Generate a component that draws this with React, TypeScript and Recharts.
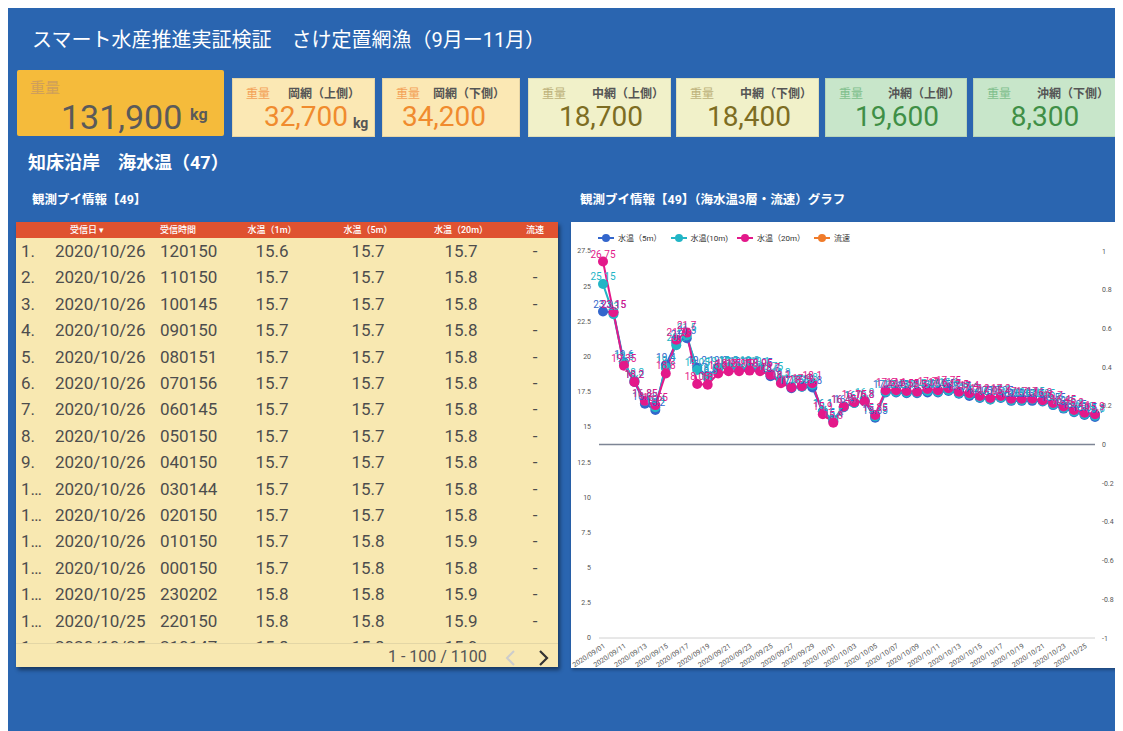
import React from "react";
import {
  LineChart,
  Line,
  XAxis,
  YAxis,
  Legend,
  LabelList,
  ReferenceLine,
} from "recharts";

// daily buoy readings, 2020/09/01 then 09/10 .. 10/26
const DATES = [
  "2020/09/01", "2020/09/10", "2020/09/11", "2020/09/12", "2020/09/13", "2020/09/14",
  "2020/09/15", "2020/09/16", "2020/09/17", "2020/09/18", "2020/09/19", "2020/09/20",
  "2020/09/21", "2020/09/22", "2020/09/23", "2020/09/24", "2020/09/25", "2020/09/26",
  "2020/09/27", "2020/09/28", "2020/09/29", "2020/09/30", "2020/10/01", "2020/10/02",
  "2020/10/03", "2020/10/04", "2020/10/05", "2020/10/06", "2020/10/07", "2020/10/08",
  "2020/10/09", "2020/10/10", "2020/10/11", "2020/10/12", "2020/10/13", "2020/10/14",
  "2020/10/15", "2020/10/16", "2020/10/17", "2020/10/18", "2020/10/19", "2020/10/20",
  "2020/10/21", "2020/10/22", "2020/10/23", "2020/10/24", "2020/10/25", "2020/10/26",
];

const TEMP_5M = [
  23.2, 23.15, 19.6, 18.2, 16.65, 16.2, 19.4, 21.0, 21.3, 19.2, 18.6, 19.2,
  19.2, 19.1, 19.1, 19.05, 18.6, 18.2, 17.75, 17.85, 17.8, 16.1, 15.4, 16.4,
  16.7, 16.8, 15.65, 17.45, 17.45, 17.4, 17.4, 17.45, 17.45, 17.55, 17.35, 17.2,
  17.05, 16.95, 17.05, 16.85, 16.85, 16.85, 16.8, 16.55, 16.3, 16.05, 15.85, 15.7,
];

const TEMP_10M = [
  25.15, 23.0, 19.5, 18.3, 16.85, 16.4, 19.2, 20.8, 21.5, 19.05, 18.5, 19.15,
  19.2, 19.15, 19.2, 19.1, 18.75, 18.3, 17.85, 17.85, 18.0, 16.1, 15.5, 16.45,
  16.7, 16.9, 15.75, 17.5, 17.5, 17.45, 17.45, 17.55, 17.5, 17.6, 17.4, 17.3,
  17.1, 16.95, 17.1, 16.9, 16.9, 16.95, 16.85, 16.6, 16.35, 16.1, 15.9, 15.8,
];

const TEMP_20M = [
  26.75, 23.15, 19.35, 18.2, 16.85, 16.55, 18.8, 21.2, 21.7, 18.05, 18.0, 18.8,
  18.95, 18.95, 19.0, 18.95, 18.7, 18.1, 17.8, 17.9, 18.1, 15.9, 15.3, 16.45,
  16.75, 16.8, 15.85, 17.6, 17.6, 17.55, 17.5, 17.7, 17.6, 17.75, 17.5, 17.4,
  17.2, 17.05, 17.2, 17.0, 17.0, 17.0, 16.9, 16.7, 16.45, 16.2, 16.0, 15.9,
];

const LEFT_TICKS = [0, 2.5, 5, 7.5, 10, 12.5, 15, 17.5, 20, 22.5, 25, 27.5];
const RIGHT_TICKS = [-1, -0.8, -0.6, -0.4, -0.2, 0, 0.2, 0.4, 0.6, 0.8, 1];

// KPI cards
const CARD_TITLES = ["", "岡網（上側）", "岡網（下側）", "中網（上側）", "中網（下側）", "沖網（上側）", "沖網（下側）"];
const CARD_VALUES = ["131,900", "32,700", "34,200", "18,700", "18,400", "19,600", "8,300"];

// table rows
const ROW_NO = ["1.", "2.", "3.", "4.", "5.", "6.", "7.", "8.", "9.", "1…", "1…", "1…", "1…", "1…", "1…", "1…"];
const ROW_DATE = [
  "2020/10/26", "2020/10/26", "2020/10/26", "2020/10/26", "2020/10/26", "2020/10/26",
  "2020/10/26", "2020/10/26", "2020/10/26", "2020/10/26", "2020/10/26", "2020/10/26",
  "2020/10/26", "2020/10/25", "2020/10/25", "2020/10/25",
];
const ROW_TIME = [
  "120150", "110150", "100145", "090150", "080151", "070156", "060145", "050150",
  "040150", "030144", "020150", "010150", "000150", "230202", "220150", "210147",
];
const ROW_1M = ["15.6", "15.7", "15.7", "15.7", "15.7", "15.7", "15.7", "15.7", "15.7", "15.7", "15.7", "15.7", "15.7", "15.8", "15.8", "15.8"];
const ROW_5M = ["15.7", "15.7", "15.7", "15.7", "15.7", "15.7", "15.7", "15.7", "15.7", "15.7", "15.7", "15.8", "15.8", "15.8", "15.8", "15.8"];
const ROW_20M = ["15.7", "15.8", "15.8", "15.8", "15.8", "15.8", "15.8", "15.8", "15.8", "15.8", "15.8", "15.9", "15.8", "15.9", "15.9", "15.9"];

const FONT = "Roboto, 'Noto Sans CJK JP', sans-serif";
const BLUE = "#3366cc";
const TEAL = "#22b5c6";
const PINK = "#e3198a";
const ORANGE = "#f07b2a";

const chartData = DATES.map((d, i) => ({
  date: d,
  t5: TEMP_5M[i],
  t10: TEMP_10M[i],
  t20: TEMP_20M[i],
}));

const legendItems = [
  { name: "水温（5m）", color: BLUE },
  { name: "水温(10m)", color: TEAL },
  { name: "水温（20m）", color: PINK },
  { name: "流速", color: ORANGE },
];

function ChartLegend() {
  return (
    <div style={{ display: "flex", gap: 9, fontSize: 8, color: "#333", fontFamily: FONT }}>
      {legendItems.map((it) => (
        <div key={it.name} style={{ display: "flex", alignItems: "center", gap: 4 }}>
          <svg width={16} height={10}>
            <line x1={0} y1={5} x2={16} y2={5} stroke={it.color} strokeWidth={2} />
            <circle cx={8} cy={5} r={4} fill={it.color} />
          </svg>
          <span>{it.name}</span>
        </div>
      ))}
    </div>
  );
}

// right axis labels, kept grey
function RightTick(props: any) {
  const { x, y, payload } = props;
  return (
    <text x={x} y={y} dy={2.5} fontSize={7} fill="#555" textAnchor="start" fontFamily={FONT}>
      {payload.value}
    </text>
  );
}

const CARD_STYLES = [
  { bg: "#f5bb3b", muted: "#cf9f5a", value: "#5a5a5a" },
  { bg: "#fbe8b4", muted: "#f3a157", value: "#f08b2e" },
  { bg: "#fbe8b4", muted: "#f3a157", value: "#f08b2e" },
  { bg: "#f1f1c9", muted: "#bdb27a", value: "#7d6d22" },
  { bg: "#f1f1c9", muted: "#bdb27a", value: "#7d6d22" },
  { bg: "#c8e6ca", muted: "#7fbf8c", value: "#3f8f46" },
  { bg: "#c8e6ca", muted: "#7fbf8c", value: "#3f8f46" },
];
const CARD_BOX = [
  { left: 9, width: 207 },
  { left: 224, width: 143 },
  { left: 374, width: 138 },
  { left: 520, width: 143 },
  { left: 668, width: 143 },
  { left: 817, width: 142 },
  { left: 965, width: 143 },
];
const VALUE_CENTER = [0, 73, 61, 72, 72, 71, 71];

function Cards() {
  return (
    <>
      <div
        style={{
          position: "absolute", left: 9, top: 62, width: 207, height: 66,
          background: CARD_STYLES[0].bg, borderRadius: 2,
        }}
      >
        <div style={{ position: "absolute", left: 13, top: 6, fontSize: 15, color: CARD_STYLES[0].muted }}>重量</div>
        <div
          style={{
            position: "absolute", left: 44, top: 27, fontSize: 34, lineHeight: "40px",
            color: CARD_STYLES[0].value, fontFamily: FONT,
          }}
        >
          {CARD_VALUES[0]}
        </div>
        <div
          style={{
            position: "absolute", left: 173, top: 35, fontSize: 16, fontWeight: 700,
            color: CARD_STYLES[0].value,
          }}
        >
          kg
        </div>
      </div>
      {CARD_TITLES.slice(1).map((t, k) => {
        const i = k + 1;
        const s = CARD_STYLES[i];
        const box = CARD_BOX[i];
        return (
          <div
            key={t}
            style={{
              position: "absolute", left: box.left, top: 70, width: box.width, height: 59,
              background: s.bg, border: "1px solid rgba(0,0,0,0.08)", boxSizing: "border-box",
            }}
          >
            <div style={{ position: "absolute", left: 13, top: 5, fontSize: 12, color: s.muted }}>重量</div>
            <div
              style={{
                position: "absolute", right: i === 1 || i === 2 ? 14 : 6, top: 5, fontSize: 12,
                fontWeight: 700, color: "#555",
              }}
            >
              {t}
            </div>
            <div
              style={{
                position: "absolute", left: VALUE_CENTER[i] - 60, width: 120, top: 21,
                textAlign: "center", fontSize: 28, lineHeight: "34px", color: s.value,
              }}
            >
              {CARD_VALUES[i]}
            </div>
            {i === 1 && (
              <div
                style={{
                  position: "absolute", left: 120, top: 36, fontSize: 14, fontWeight: 700, color: "#555",
                }}
              >
                kg
              </div>
            )}
          </div>
        );
      })}
    </>
  );
}

const ROW_H = 26.4;
const CENTER_COLS = [
  { head: "水温（1m）", x: 256, vals: ROW_1M },
  { head: "水温（5m）", x: 352, vals: ROW_5M },
  { head: "水温（20m）", x: 445, vals: ROW_20M },
];

function DataTable() {
  return (
    <div
      style={{
        position: "absolute", left: 8, top: 214, width: 542, height: 445,
        background: "#f8e8b1", boxShadow: "2px 3px 4px rgba(0,0,0,0.45)", fontFamily: FONT,
      }}
    >
      <div
        style={{
          position: "absolute", left: 0, top: 0, width: 542, height: 16, background: "#df5230",
          color: "#fff", fontSize: 9, fontWeight: 500, lineHeight: "16px",
        }}
      >
        <span style={{ position: "absolute", left: 54 }}>受信日 ▾</span>
        <span style={{ position: "absolute", left: 144 }}>受信時間</span>
        {CENTER_COLS.map((c) => (
          <span key={c.head} style={{ position: "absolute", left: c.x - 50, width: 100, textAlign: "center" }}>
            {c.head}
          </span>
        ))}
        <span style={{ position: "absolute", left: 469, width: 100, textAlign: "center" }}>流速</span>
      </div>
      <div style={{ position: "absolute", left: 0, top: 16, width: 542, height: 405, overflow: "hidden" }}>
        {ROW_DATE.map((d, r) => (
          <div
            key={r}
            style={{
              position: "absolute", left: 0, top: r * ROW_H, width: 542, height: ROW_H,
              fontSize: 17, lineHeight: `${ROW_H}px`, color: "#4d4d4d",
            }}
          >
            <span style={{ position: "absolute", left: 5 }}>{ROW_NO[r]}</span>
            <span style={{ position: "absolute", left: 39 }}>{d}</span>
            <span style={{ position: "absolute", left: 144 }}>{ROW_TIME[r]}</span>
            {CENTER_COLS.map((c) => (
              <span key={c.head} style={{ position: "absolute", left: c.x - 50, width: 100, textAlign: "center" }}>
                {c.vals[r]}
              </span>
            ))}
            <span style={{ position: "absolute", left: 469, width: 100, textAlign: "center" }}>-</span>
          </div>
        ))}
      </div>
      <div style={{ position: "absolute", left: 0, top: 421, width: 542, height: 1, background: "#e3d6a6" }} />
      <div
        style={{
          position: "absolute", left: 372, top: 424, fontSize: 16, lineHeight: "22px", color: "#555",
        }}
      >
        1 - 100 / 1100
      </div>
      <svg style={{ position: "absolute", left: 488, top: 427 }} width={14} height={18}>
        <polyline points="10,2 3,9 10,16" fill="none" stroke="#cccccc" strokeWidth={2} />
      </svg>
      <svg style={{ position: "absolute", left: 521, top: 427 }} width={14} height={18}>
        <polyline points="3,2 10,9 3,16" fill="none" stroke="#333333" strokeWidth={2.2} />
      </svg>
    </div>
  );
}

export default function App() {
  return (
    <div
      style={{
        position: "relative", width: 1115, height: 723, background: "#2a65b0",
        fontFamily: FONT, overflow: "hidden",
      }}
    >
      <div style={{ position: "absolute", left: 24, top: 19, fontSize: 20, lineHeight: "26px", color: "#fff" }}>
        スマート水産推進実証検証　さけ定置網漁（9月ー11月）
      </div>
      <Cards />
      <div
        style={{
          position: "absolute", left: 20, top: 143, fontSize: 18, fontWeight: 700, lineHeight: "24px", color: "#fff",
        }}
      >
        知床沿岸　海水温（47）
      </div>
      <div style={{ position: "absolute", left: 24, top: 183, fontSize: 12.5, fontWeight: 700, lineHeight: "18px", color: "#fff" }}>
        観測ブイ情報【49】
      </div>
      <div style={{ position: "absolute", left: 572, top: 183, fontSize: 12.5, fontWeight: 700, lineHeight: "18px", color: "#fff" }}>
        観測ブイ情報【49】（海水温3層・流速）グラフ
      </div>
      <DataTable />
      <div
        style={{
          position: "absolute", left: 563, top: 214, width: 547, height: 446, background: "#fff",
          boxShadow: "1px 2px 3px rgba(0,0,0,0.3)",
        }}
      >
        <LineChart width={547} height={446} data={chartData} margin={{ top: 18, right: 0, left: 0, bottom: 0 }}>
          <Legend
            verticalAlign="top"
            align="left"
            content={() => <ChartLegend />}
            wrapperStyle={{ position: "absolute", top: 10, left: 27, width: "auto" }}
          />
          <XAxis
            dataKey="date"
            interval={1}
            height={30}
            padding={{ left: 4, right: 0 }}
            angle={-33}
            textAnchor="end"
            tick={{ fontSize: 7, fill: "#555" }}
            tickLine={false}
            tickSize={3}
            axisLine={{ stroke: "#d0d0d0" }}
          />
          <YAxis
            yAxisId="left"
            width={28}
            domain={[0, 27.5]}
            ticks={LEFT_TICKS}
            tick={{ fontSize: 7, fill: "#555" }}
            tickLine={false}
            axisLine={false}
          />
          <YAxis
            yAxisId="right"
            orientation="right"
            type="number"
            width={23}
            domain={[-1, 1]}
            allowDataOverflow
            ticks={RIGHT_TICKS}
            tick={<RightTick />}
            tickLine={false}
            axisLine={false}
            tickMargin={1}
          />
          <ReferenceLine yAxisId="right" y={0} stroke="#7d8595" strokeWidth={1.5} ifOverflow="visible" />
          <Line
            yAxisId="left"
            dataKey="t5"
            name="水温（5m）"
            stroke={BLUE}
            strokeWidth={2}
            dot={{ r: 5, fill: BLUE, stroke: BLUE, strokeWidth: 0 }}
            isAnimationActive={false}
          >
            <LabelList dataKey="t5" position="top" offset={4} fontSize={10} fill={BLUE} />
          </Line>
          <Line
            yAxisId="left"
            dataKey="t10"
            name="水温(10m)"
            stroke={TEAL}
            strokeWidth={2}
            dot={{ r: 5, fill: TEAL, stroke: TEAL, strokeWidth: 0 }}
            isAnimationActive={false}
          >
            <LabelList dataKey="t10" position="top" offset={4} fontSize={10} fill={TEAL} />
          </Line>
          <Line
            yAxisId="left"
            dataKey="t20"
            name="水温（20m）"
            stroke={PINK}
            strokeWidth={2}
            dot={{ r: 5, fill: PINK, stroke: PINK, strokeWidth: 0 }}
            isAnimationActive={false}
          >
            <LabelList dataKey="t20" position="top" offset={4} fontSize={10} fill={PINK} />
          </Line>
          <Line
            yAxisId="right"
            dataKey="speed"
            name="流速"
            stroke={ORANGE}
            strokeWidth={2}
            dot={false}
            isAnimationActive={false}
          />
        </LineChart>
      </div>
    </div>
  );
}
